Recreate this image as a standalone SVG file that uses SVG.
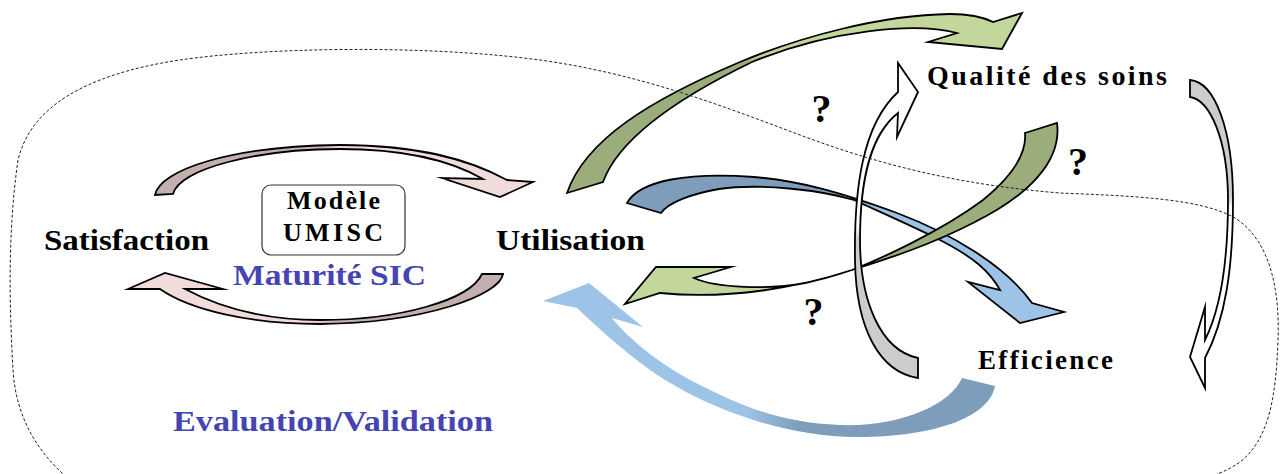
<svg xmlns="http://www.w3.org/2000/svg" width="1282" height="474" viewBox="0 0 1282 474">
<style>
.arr{stroke:#000;stroke-width:1.8;stroke-linejoin:miter;stroke-miterlimit:10}
.t{font-family:"Liberation Serif","Times New Roman",serif;font-weight:bold;fill:#000}
.blue{fill:#4444b2}
.boundary{fill:none;stroke:#222;stroke-width:1;stroke-dasharray:3 2}
</style>
<defs>
<linearGradient id="gPinkTop" gradientUnits="userSpaceOnUse" x1="155" y1="0" x2="533" y2="0">
<stop offset="0" stop-color="#c3b0ae"/><stop offset="0.43" stop-color="#c3b0ae"/><stop offset="0.5" stop-color="#f2dcdb"/><stop offset="1" stop-color="#f2dcdb"/>
</linearGradient>
<linearGradient id="gPinkBot" gradientUnits="userSpaceOnUse" x1="503" y1="0" x2="128" y2="0">
<stop offset="0" stop-color="#c3b0ae"/><stop offset="0.45" stop-color="#c3b0ae"/><stop offset="0.52" stop-color="#f2dcdb"/><stop offset="1" stop-color="#f2dcdb"/>
</linearGradient>
<linearGradient id="gGreenBig" gradientUnits="userSpaceOnUse" x1="585" y1="188" x2="1000" y2="30">
<stop offset="0" stop-color="#9bad7a"/><stop offset="0.44" stop-color="#9bad7a"/><stop offset="0.48" stop-color="#c3d69b"/><stop offset="1" stop-color="#c3d69b"/>
</linearGradient>
<linearGradient id="gBlue" gradientUnits="userSpaceOnUse" x1="645" y1="208" x2="1030" y2="310">
<stop offset="0" stop-color="#7d9dba"/><stop offset="0.52" stop-color="#7d9dba"/><stop offset="0.56" stop-color="#9dc3e6"/><stop offset="1" stop-color="#9dc3e6"/>
</linearGradient>
<linearGradient id="gGreen2" gradientUnits="userSpaceOnUse" x1="1041" y1="128" x2="680" y2="285">
<stop offset="0" stop-color="#9bad7a"/><stop offset="0.56" stop-color="#9bad7a"/><stop offset="0.6" stop-color="#c3d69b"/><stop offset="1" stop-color="#c3d69b"/>
</linearGradient>
<linearGradient id="gBlueBot" gradientUnits="userSpaceOnUse" x1="978" y1="382" x2="590" y2="305">
<stop offset="0" stop-color="#7d9dba"/><stop offset="0.42" stop-color="#7d9dba"/><stop offset="0.56" stop-color="#9dc3e6"/><stop offset="1" stop-color="#9dc3e6"/>
</linearGradient>
<linearGradient id="gVertL" gradientUnits="userSpaceOnUse" x1="0" y1="378" x2="0" y2="63">
<stop offset="0" stop-color="#cccccc"/><stop offset="0.44" stop-color="#cccccc"/><stop offset="0.48" stop-color="#ffffff"/><stop offset="1" stop-color="#ffffff"/>
</linearGradient>
<linearGradient id="gVertR" gradientUnits="userSpaceOnUse" x1="0" y1="80" x2="0" y2="388">
<stop offset="0" stop-color="#cccccc"/><stop offset="0.38" stop-color="#cccccc"/><stop offset="0.42" stop-color="#ffffff"/><stop offset="1" stop-color="#ffffff"/>
</linearGradient>
</defs>

<g id="connectors">
<path id="arrow-efficience-utilisation" fill="url(#gBlueBot)" d="M995,386 C990,415 940,437 857,437 C780,437 700,405 650,370 C620,348 595,325 577,308 L543,301 L589,283 L643,327 L612,318 C630,340 660,365 700,385 C740,405 780,423 840,425 C900,427 950,405 962,378 Z"/>
<path id="arrow-satisfaction-utilisation" class="arr" fill="url(#gPinkTop)" d="M155,195 C160,170 230,146 340,145 C420,145 470,160 507,180 L533,182 L500,197 L442,178 L483,179 C455,163 410,149 340,149 C260,149 180,168 173,194 Z"/>
<path id="arrow-utilisation-satisfaction" class="arr" fill="url(#gPinkBot)" d="M503,274 C500,295 425,323 320,324 C250,324 190,310 160,289 L128,289 L165,273 L223,289 L185,289 C215,305 260,320 320,320 C400,320 470,300 482,274 Z"/>
<path id="arrow-utilisation-qualite" class="arr" fill="url(#gGreenBig)" d="M567,193 C585,140 650,100 740,62 C800,37 880,15 950,14 C970,14 985,18 993,22 L1022,13 L1002,49 L928,42 L957,33 C915,22 830,30 752,62 C688,93 620,135 603,182 Z"/>
<path id="arrow-utilisation-efficience" class="arr" fill="url(#gBlue)" d="M627,203 C640,180 690,172 754,177 C800,181 840,192 897,213 C950,233 1005,265 1032,303 L1064,312 L1020,323 L968,282 L1000,290 C990,272 975,258 940,240 C910,225 880,212 854,200 C820,190 760,183 719,189 C690,194 668,203 661,213 Z"/>
<path id="arrow-qualite-utilisation" class="arr" fill="url(#gGreen2)" d="M1025,133 L1057,123 C1062,160 1030,195 973,223 C930,245 890,258 852,270 C800,287 730,300 660,293 L625,304 L656,267 L731,267 L694,278 C715,288 770,290 805,283 C825,279 840,274 852,270 C880,259 940,232 983,200 C1010,178 1027,155 1025,133 Z"/>
<path id="arrow-efficience-qualite" class="arr" fill="url(#gVertL)" d="M918,378 C880,372 856,330 855,260 C854,190 862,125 898,92 L898,63 L918,92 L897,137 L898,113 C870,135 860,180 860,240 C860,300 880,350 918,358 Z"/>
<path id="arrow-qualite-efficience" class="arr" fill="url(#gVertR)" d="M1190,80 C1215,82 1233,130 1233,200 C1233,270 1225,320 1205,358 L1205,388 L1190,357 L1205,307 L1205,340 C1220,310 1228,260 1228,200 C1228,140 1210,100 1190,97 Z"/>
</g>

<g id="boundary-evaluation">
<path class="boundary" d="M70,480 C40,455 16,420 13,370 C9,300 8,230 18,160 C30,110 80,75 180,60 C260,48 420,44 540,60 C640,74 720,105 800,135 C880,165 960,185 1060,193 C1130,196 1200,198 1235,218 C1270,240 1280,290 1278,340 C1276,400 1268,440 1240,462 C1220,476 1200,480 1180,482"/>
</g>

<g id="node-satisfaction"><text class="t" x="44" y="250" font-size="29" textLength="165" lengthAdjust="spacingAndGlyphs">Satisfaction</text></g>
<g id="node-utilisation"><text class="t" x="496" y="250" font-size="29" textLength="149" lengthAdjust="spacingAndGlyphs">Utilisation</text></g>
<g id="node-modele">
<rect x="262" y="185" width="143" height="70" rx="9" ry="9" fill="#fff" stroke="#333" stroke-width="1.2"/>
<text class="t" x="287" y="209" font-size="26" textLength="93" lengthAdjust="spacing">Modèle</text>
<text class="t" x="283" y="241" font-size="26" textLength="100" lengthAdjust="spacing">UMISC</text>
</g>
<g id="label-maturite"><text class="t blue" x="233" y="285" font-size="29" textLength="193" lengthAdjust="spacingAndGlyphs">Maturité SIC</text></g>
<g id="label-evaluation"><text class="t blue" x="173" y="431" font-size="29" textLength="320" lengthAdjust="spacingAndGlyphs">Evaluation/Validation</text></g>
<g id="node-qualite"><text class="t" x="927" y="85" font-size="28" textLength="240" lengthAdjust="spacing">Qualité des soins</text></g>
<g id="node-efficience"><text class="t" x="978" y="369" font-size="27" textLength="135" lengthAdjust="spacing">Efficience</text></g>
<g id="labels-question">
<text class="t" x="821.5" y="122" font-size="40" text-anchor="middle">?</text>
<text class="t" x="1078" y="175" font-size="40" text-anchor="middle">?</text>
<text class="t" x="813.5" y="325" font-size="40" text-anchor="middle">?</text>
</g>
</svg>
